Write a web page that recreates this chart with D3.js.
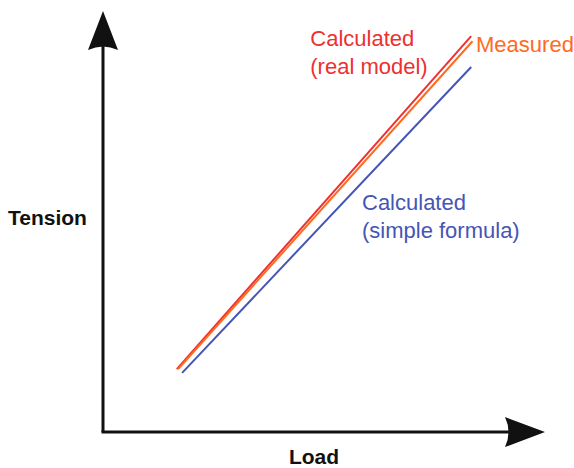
<!DOCTYPE html>
<html>
<head>
<meta charset="utf-8">
<script src="https://cdn.jsdelivr.net/npm/d3@7"></script>
<style>
  html, body { margin: 0; padding: 0; background: #fff; }
  svg { display: block; }
</style>
</head>
<body>
<div id="chart"></div>
<script>
// ---- data (schematic: arbitrary units 0..100) ----
const seriesNames = ["Calculated (real model)", "Measured", "Calculated (simple formula)"];
const seriesLoad = [[16.7, 83.3], [17.0, 83.6], [17.9, 83.3]];
const seriesTension = [[14.9, 93.8], [14.9, 92.6], [14.0, 86.5]];
const seriesColors = ["#ee3030", "#ff6a1e", "#4555b5"];
const labelLines = [["Calculated", "(real model)"], ["Measured"], ["Calculated", "(simple formula)"]];
const labelLoad = [46.9, 84.4, 58.6];
const labelTension = [91.5, 90.0, 52.5];
const axisTitles = ["Load", "Tension"];

const W = 574, H = 468;
const svg = d3.select("#chart").append("svg").attr("width", W).attr("height", H);

const x = d3.scaleLinear().domain([0, 100]).range([103, 545]);
const y = d3.scaleLinear().domain([0, 100]).range([432, 10]);

// axes lines
const axisColor = "#111";
svg.append("line").attr("x1", x(0)).attr("y1", y(0)).attr("x2", x(0)).attr("y2", y(92))
  .attr("stroke", axisColor).attr("stroke-width", 3);
svg.append("line").attr("x1", x(0) - 1.5).attr("y1", y(0)).attr("x2", x(92)).attr("y2", y(0))
  .attr("stroke", axisColor).attr("stroke-width", 3);

// arrowheads
const ax = x(0), ay = y(100);
svg.append("path")
  .attr("d", `M${ax},${ay + 1} L${ax + 15},${ay + 40} Q${ax},${ay + 33} ${ax - 15},${ay + 40} Z`)
  .attr("fill", axisColor);
const bx = x(100), by = y(0);
svg.append("path")
  .attr("d", `M${bx},${by} L${bx - 40},${by - 15} Q${bx - 33},${by} ${bx - 40},${by + 15} Z`)
  .attr("fill", axisColor);

// series lines
const line = d3.line().x(d => x(d[0])).y(d => y(d[1]));
seriesNames.forEach((name, i) => {
  const pts = seriesLoad[i].map((v, j) => [v, seriesTension[i][j]]);
  svg.append("path").datum(pts).attr("d", line)
    .attr("fill", "none").attr("stroke", seriesColors[i]).attr("stroke-width", 2);
});

// labels
const font = "'Liberation Sans', Arial, sans-serif";
labelLines.forEach((lines, i) => {
  const t = svg.append("text")
    .attr("x", x(labelLoad[i])).attr("y", y(labelTension[i]))
    .attr("fill", seriesColors[i]).attr("font-family", font).attr("font-size", 22);
  lines.forEach((s, j) => {
    t.append("tspan").attr("x", x(labelLoad[i])).attr("dy", j === 0 ? 0 : 28).text(s);
  });
});

// axis titles
svg.append("text").attr("x", 314).attr("y", 464).attr("text-anchor", "middle")
  .attr("font-family", font).attr("font-weight", "bold").attr("font-size", 21)
  .attr("fill", "#111").text(axisTitles[0]);
svg.append("text").attr("x", 8).attr("y", 225)
  .attr("font-family", font).attr("font-weight", "bold").attr("font-size", 21)
  .attr("fill", "#111").text(axisTitles[1]);
</script>
</body>
</html>
